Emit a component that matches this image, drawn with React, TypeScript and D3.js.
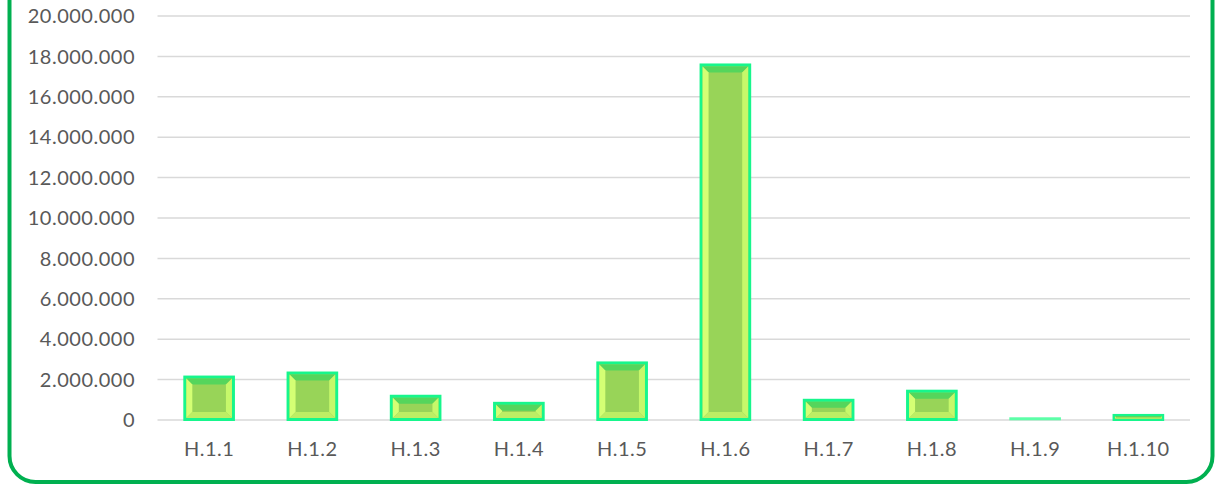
import React from "react";
import { scaleBand, scaleLinear } from "d3";

const categories = ["H.1.1", "H.1.2", "H.1.3", "H.1.4", "H.1.5", "H.1.6", "H.1.7", "H.1.8", "H.1.9", "H.1.10"];
const values = [2200000, 2400000, 1250000, 900000, 2900000, 17650000, 1050000, 1500000, 60000, 300000];
const yTicks = [0, 2000000, 4000000, 6000000, 8000000, 10000000, 12000000, 14000000, 16000000, 18000000, 20000000];

const W = 1219;
const H = 487;
const left = 157.5;
const right = 1190;
const top = 16;
const bottom = 420;

const fmt = (v: number) => v.toLocaleString("de-DE");

const Bar = ({ x, y, w, h }: { x: number; y: number; w: number; h: number }) => {
  if (h < 3) {
    return <rect x={x} y={y - 1.5} width={w} height={3} fill="#5dffa8" />;
  }
  const b = Math.min(3, h / 3);
  const ix = x + b;
  const iy = y + b;
  const iw = w - 2 * b;
  const ih = Math.max(0, h - 2 * b);
  const bv = Math.min(6, iw / 2, ih / 2);
  return (
    <g>
      <rect x={x} y={y} width={w} height={h} fill="#17f68c" />
      <rect x={ix} y={iy} width={iw} height={ih} fill="#98d458" />
      {/* top bevel */}
      <polygon
        points={`${ix},${iy} ${ix + iw},${iy} ${ix + iw - bv},${iy + bv} ${ix + bv},${iy + bv}`}
        fill="#55d55c"
      />
      {/* left bevel */}
      <polygon
        points={`${ix},${iy} ${ix + bv},${iy + bv} ${ix + bv},${iy + ih - bv} ${ix},${iy + ih}`}
        fill="#d4ff74"
      />
      {/* right bevel */}
      <polygon
        points={`${ix + iw},${iy} ${ix + iw - bv},${iy + bv} ${ix + iw - bv},${iy + ih - bv} ${ix + iw},${iy + ih}`}
        fill="#c6f86a"
      />
      {/* bottom bevel */}
      <polygon
        points={`${ix},${iy + ih} ${ix + bv},${iy + ih - bv} ${ix + iw - bv},${iy + ih - bv} ${ix + iw},${iy + ih}`}
        fill="#bdee64"
      />
    </g>
  );
};

export default function App() {
  const x = scaleBand<string>().domain(categories).range([left, right]).paddingInner(0.5).paddingOuter(0.25);
  const y = scaleLinear().domain([0, 20000000]).range([bottom, top]);

  return (
    <svg
      width={W}
      height={H}
      style={{ position: "absolute", left: 0, top: 0, background: "#fff" }}
      fontFamily="Lato, 'Open Sans', sans-serif"
    >
      <rect x={9.5} y={-40} width={1203} height={522} rx={26} ry={26} fill="none" stroke="#00b050" strokeWidth={4} />
      {yTicks.map((t) => (
        <g key={t}>
          <line x1={left} x2={right} y1={y(t)} y2={y(t)} stroke="#d9d9d9" strokeWidth={1.5} />
          <text x={135} y={y(t)} dy="0.36em" textAnchor="end" fontSize={20} letterSpacing={0.5} fill="#595959">
            {fmt(t)}
          </text>
        </g>
      ))}
      {categories.map((c, i) => {
        const bx = x(c)!;
        const bw = x.bandwidth();
        const by = y(values[i]);
        return (
          <g key={c}>
            <Bar x={bx} y={by} w={bw} h={y(0) - by + 1} />
            <text x={bx + bw / 2} y={456} textAnchor="middle" fontSize={20} letterSpacing={0.5} fill="#595959">
              {c}
            </text>
          </g>
        );
      })}
    </svg>
  );
}
